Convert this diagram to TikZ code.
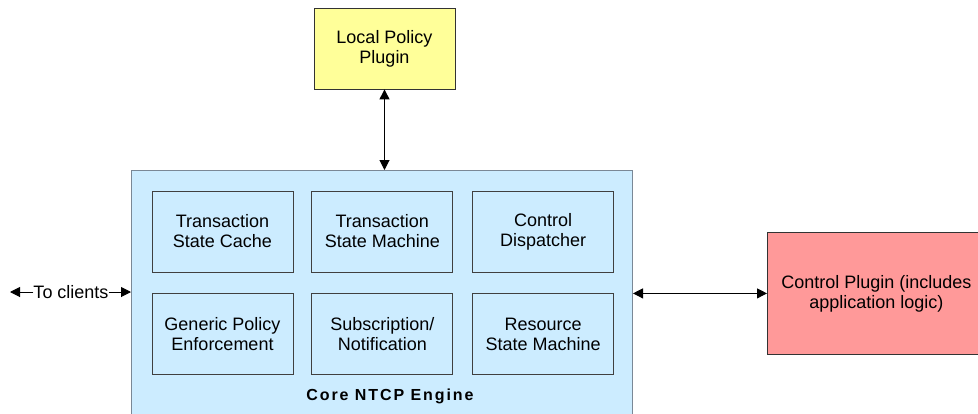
\documentclass[tikz,border=0pt]{standalone}
\usepackage{fontspec}
\setmainfont{Liberation Sans}
\usetikzlibrary{arrows.meta,positioning}
\definecolor{ntcpBlue}{HTML}{CCECFF}
\definecolor{ntcpYellow}{HTML}{FFFF99}
\definecolor{ntcpRed}{HTML}{FF9999}
\definecolor{ntcpEdge}{HTML}{7A8896}

\begin{document}
\begin{tikzpicture}[x=1pt,y=-1pt,font=\fontsize{18}{20}\selectfont,
  every node/.style={align=center,inner sep=0pt},
  part/.style={draw=black!75,fill=ntcpBlue,line width=0.8pt,
               minimum width=141pt,minimum height=81pt},
  plugin/.style={draw=black!80,line width=0.8pt},
  link/.style={line width=1pt,-{Triangle[length=10pt,width=10pt]}},
  both/.style={line width=1pt,
               {Triangle[length=10pt,width=10pt]}-{Triangle[length=10pt,width=10pt]}}]
  \useasboundingbox (0,0) rectangle (978,413);
  \clip (0,0) rectangle (978,413);
  % core engine, runs off the bottom edge
  \node[draw=ntcpEdge,fill=ntcpBlue,line width=1pt,minimum width=501pt,
        minimum height=280pt,anchor=north west] (core) at (131,170) {};
  \node[part] (tsc) at (222.5,231.5) {Transaction\\State Cache};
  \node[part,right=18pt of tsc] (tsm) {Transaction\\State Machine};
  \node[part,right=19pt of tsm] (cd) {Control\\Dispatcher};
  \node[part,below=21pt of tsc] (gpe) {Generic Policy\\Enforcement};
  \node[part,below=21pt of tsm] (sn) {Subscription/\\Notification};
  \node[part,below=21pt of cd] (rsm) {Resource\\State Machine};
  \node[font=\fontsize{16}{18}\selectfont\bfseries\addfontfeature{LetterSpace=12}]
    (corelbl) at (390,396) {Core NTCP Engine};
  % plugins
  \node[plugin,fill=ntcpYellow,minimum width=141pt,minimum height=81pt] (lpp)
    at (384.5,48.5) {Local Policy\\Plugin};
  \node[plugin,fill=ntcpRed,minimum width=218pt,minimum height=122pt,
        anchor=north west] (cp) at (767,232) {Control Plugin (includes\\application logic)};
  % clients
  \node (clients) at (71,292) {To clients};
  \coordinate (farleft) at (10,292);
  \draw[link] (clients.west) -- (farleft);
  \draw[link] (clients.east) -- (clients.east -| core.west);
  \draw[both] (lpp.south) -- (lpp.south |- core.north);
  \draw[both] (core.east |- cp.west) -- (cp.west);
\end{tikzpicture}
\end{document}
